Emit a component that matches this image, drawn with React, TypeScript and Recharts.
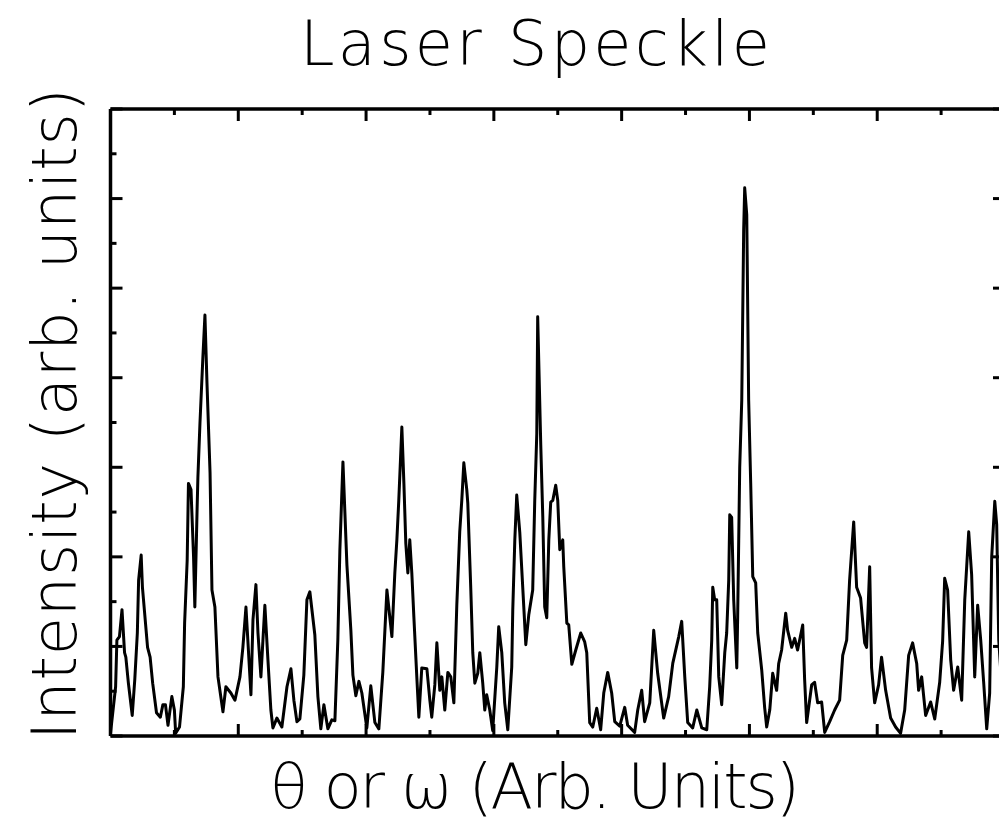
import React from "react";
import { LineChart, Line, XAxis, YAxis } from "recharts";

// angle (arb. units) and intensity (arb. units) of the speckle trace
const theta = [
  0, 4, 5, 7, 9, 11, 12, 14, 17, 19, 21, 22, 24, 25, 29, 31, 33, 36, 39, 41,
  43, 45, 48, 50, 51, 54, 57, 58, 60, 61, 63, 65, 66, 67.7, 68.4, 70, 72.3,
  73.9, 75.5, 77.9, 79.4, 81.7, 84.1, 88, 90.3, 94.2, 97.4, 101.3, 103.6, 106,
  109.9, 111.5, 113.8, 115.4, 117.7, 120.8, 123.2, 125.5, 127.1, 130.2, 134.1,
  138.1, 141.2, 143.5, 145.9, 148.2, 151.3, 153.7, 156, 159.9, 162.3, 164.6,
  167, 170.1, 173.2, 175.6, 177.9, 179.5, 181.9, 185, 188.1, 189.7, 192, 194.4,
  196.7, 200.6, 203.7, 206.9, 210, 213.1, 216.3, 220.2, 222.5, 224.1, 225.6,
  228, 229.6, 231.1, 232.7, 234.2, 235.8, 237.4, 239.7, 241.3, 243.6, 247.6,
  249.9, 251.4, 253.8, 255.4, 257.7, 259.3, 261.6, 264, 266.3, 268.7, 271,
  273.3, 274.9, 276.5, 278.8, 279.6, 281.9, 283.5, 285.1, 287.4, 289, 291.3,
  292.9, 294.4, 296.8, 299.1, 302.3, 303.8, 306.2, 308.5, 310.9, 314, 314.8,
  316.4, 317.9, 320.3, 322.6, 325, 327.3, 330.4, 332, 333.6, 334.3, 336.7,
  338.3, 339.8, 341.4, 343, 344.5, 346.1, 348.4, 350, 351.6, 353.9, 354.7,
  357.1, 358.6, 361, 364.1, 368, 371.1, 372.7, 375, 377.4, 380.5, 383.6, 386,
  389.1, 392.2, 394.6, 398.5, 402.4, 404.7, 410.2, 412.6, 415.7, 418, 422,
  425.1, 428.2, 432.9, 436.8, 440, 444.7, 447, 449.4, 451.7, 455.6, 458.8,
  462.7, 466.6, 468.9, 470.5, 471.3, 472.8, 474.4, 476, 478.3, 480.7, 482.2,
  483.8, 484.6, 486.1, 487.7, 490.1, 490.8, 492.4, 494, 495.5, 496.3, 497.9,
  499.4, 501, 502.6, 504.9, 506.5, 509.6, 511.9, 513.5, 515.9, 518.2, 521.3,
  522.9, 525.2, 528.4, 529.9, 533.1, 535.4, 537.7, 541.7, 543.2, 544.8, 548.7,
  551, 553.4, 556.5, 558.9, 562.8, 566.7, 570.6, 573, 576.1, 578.4, 581.6,
  583.9, 587, 590.2, 591.7, 594.1, 595.6, 598, 601.1, 603.4, 606.6, 610.5,
  614.4, 618.3, 621.5, 624.6, 627.7, 630.9, 632.4, 634.8, 637.9, 641.8, 645,
  648.9, 651.2, 652.8, 655.1, 657.5, 659.8, 663, 666.1, 668.5, 671.6, 673.9,
  676.3, 678.6, 681, 683.3, 685.7, 688, 689.6, 692, 693.5, 695.1, 698.2,
];

const intensity = [
  3, 55, 107, 111, 141, 93, 88, 59, 23, 63, 115, 174, 202, 166, 99, 88, 59, 26,
  21, 35, 35, 12, 44, 29, 3, 10, 55, 126, 196, 282, 275, 200, 144, 249, 289,
  349, 423, 470, 394, 294, 163, 144, 66, 27, 55, 48, 40, 66, 99, 144, 46, 130,
  169, 115, 66, 146, 85, 29, 9, 20, 10, 55, 75, 40, 16, 19, 68, 152, 161, 113,
  44, 8, 35, 8, 18, 17, 107, 208, 306, 191, 118, 68, 45, 61, 48, 9, 56, 15, 8,
  71, 163, 111, 182, 219, 263, 345, 282, 215, 182, 219, 182, 133, 66, 21, 76,
  75, 40, 21, 57, 104, 51, 66, 29, 71, 66, 37, 146, 228, 263, 305, 275, 260,
  166, 93, 59, 70, 93, 59, 29, 46, 29, 6, 77, 122, 93, 37, 7, 77, 141, 219,
  269, 227, 166, 102, 135, 163, 263, 338, 468, 325, 244, 144, 132, 219, 261,
  263, 280, 263, 208, 219, 189, 126, 124, 80, 96, 115, 105, 93, 15, 10, 31, 7,
  48, 71, 48, 16, 11, 32, 12, 4, 29, 51, 16, 37, 118, 70, 20, 44, 81, 111, 128,
  66, 15, 9, 29, 9, 7, 55, 107, 166, 152, 152, 66, 35, 93, 115, 174, 247, 244,
  152, 76, 133, 300, 375, 565, 612, 582, 375, 282, 178, 171, 115, 74, 32, 10,
  29, 70, 51, 81, 96, 137, 118, 99, 109, 96, 124, 63, 15, 57, 60, 37, 38, 4,
  16, 29, 40, 90, 107, 174, 239, 166, 154, 104, 99, 189, 76, 37, 57, 88, 51,
  20, 10, 3, 29, 90, 104, 81, 51, 66, 23, 38, 19, 60, 106, 176, 163, 85, 51,
  77, 40, 152, 228, 180, 66, 146, 107, 60, 8, 48, 200, 262, 236, 107, 40,
];

const majorTicks = [0, 100, 200, 300, 400, 500, 600, 700];
const minorTicks = [50, 150, 250, 350, 450, 550, 650];
const allTicks = [...majorTicks, ...minorTicks].sort((a, b) => a - b);

const data = theta.map((t, i) => ({ t, v: intensity[i] }));

const INK = "#000";
const labelFont = "'DejaVu Sans', sans-serif";

type TickProps = {
  x: number;
  y: number;
  payload: { value: number };
  side: "top" | "bottom" | "left" | "right";
};

// inward tick stub, longer on the major values
function TickMark({ x, y, payload, side }: TickProps) {
  const len = majorTicks.includes(payload.value) ? 12 : 6;
  let x2 = x;
  let y2 = y;
  if (side === "bottom") y2 = y - len;
  if (side === "top") y2 = y + len;
  if (side === "left") x2 = x + len;
  if (side === "right") x2 = x - len;
  return <line x1={x} y1={y} x2={x2} y2={y2} stroke={INK} strokeWidth={3} />;
}

const frame = { stroke: INK, strokeWidth: 3.5 };

// each axis keeps a 1px box so the tick stubs start right on the frame
const axisBits = {
  type: "number" as const,
  domain: [0, 700],
  allowDataOverflow: true,
  ticks: allTicks,
  interval: 0,
  tickSize: 0,
  tickMargin: 0,
  tickLine: false,
  axisLine: frame,
};

export default function App() {
  return (
    <div
      style={{
        position: "absolute",
        left: 0,
        top: 0,
        width: 999,
        height: 838,
        overflow: "hidden",
        background: "#fff",
      }}
    >
      <LineChart
        width={1020}
        height={838}
        data={data}
        margin={{ top: 108, right: 14, bottom: 101, left: 109.5 }}
      >
        <XAxis
          {...axisBits}
          xAxisId="bottom"
          dataKey="t"
          height={1}
          tick={(p: any) => <TickMark {...p} side="bottom" />}
        />
        <XAxis
          {...axisBits}
          xAxisId="top"
          orientation="top"
          dataKey="t"
          height={1}
          tick={(p: any) => <TickMark {...p} side="top" />}
        />
        <YAxis
          {...axisBits}
          yAxisId="left"
          width={1}
          tick={(p: any) => <TickMark {...p} side="left" />}
        />
        <YAxis
          {...axisBits}
          yAxisId="right"
          orientation="right"
          width={1}
          tick={(p: any) => <TickMark {...p} side="right" />}
        />
        <Line
          xAxisId="bottom"
          yAxisId="left"
          type="linear"
          dataKey="v"
          stroke={INK}
          strokeWidth={3}
          strokeLinejoin="round"
          dot={false}
          isAnimationActive={false}
        />
        <Line
          xAxisId="top"
          yAxisId="right"
          type="linear"
          dataKey="v"
          stroke="none"
          dot={false}
          activeDot={false}
          isAnimationActive={false}
        />
      </LineChart>

      <svg
        width={999}
        height={838}
        style={{ position: "absolute", left: 0, top: 0, pointerEvents: "none" }}
      >
        <text
          x={300}
          y={65}
          fontFamily={labelFont}
          fontWeight={200}
          fontSize={62}
          textLength={470}
          lengthAdjust="spacing"
          fill={INK}
        >
          Laser Speckle
        </text>
        <text
          x={270}
          y={808}
          fontFamily={labelFont}
          fontWeight={200}
          fontSize={62}
          textLength={530}
          lengthAdjust="spacing"
          fill={INK}
        >
          θ or ω (Arb. Units)
        </text>
        <text
          transform="translate(76, 740) rotate(-90)"
          x={0}
          y={0}
          fontFamily={labelFont}
          fontWeight={200}
          fontSize={62}
          textLength={652}
          lengthAdjust="spacing"
          fill={INK}
        >
          Intensity (arb. units)
        </text>
      </svg>
    </div>
  );
}
